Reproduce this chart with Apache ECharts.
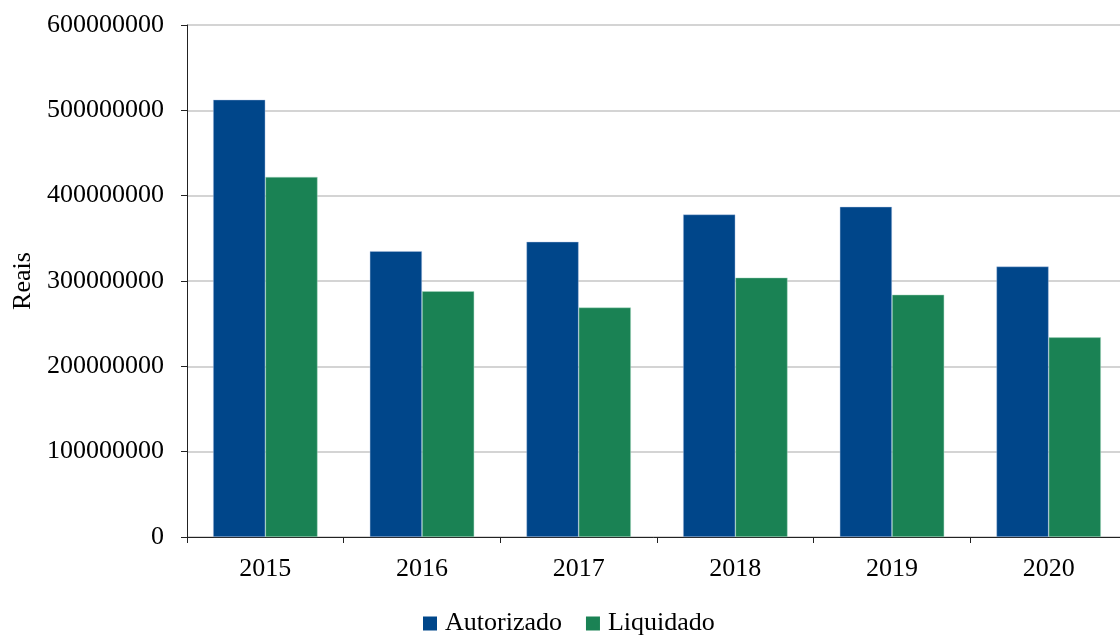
<!DOCTYPE html>
<html>
<head>
<meta charset="utf-8">
<style>
  html, body { margin: 0; padding: 0; background: #ffffff; }
  #chart { width: 1120px; height: 636px; }
</style>
<script src="https://cdn.jsdelivr.net/npm/echarts@6/dist/echarts.min.js"></script>
</head>
<body>
<div id="chart"></div>
<script>
// Annual budget: authorized vs. settled amounts (in reais)
const years = ['2015', '2016', '2017', '2018', '2019', '2020'];
const autorizado = [512500000, 335000000, 346000000, 378000000, 387000000, 317000000];
const liquidado  = [422000000, 288000000, 269000000, 304000000, 284000000, 234000000];
const yTicks = { min: 0, max: 600000000, interval: 100000000 };

const FONT = '"Liberation Serif", "Times New Roman", serif';

const chart = echarts.init(document.getElementById('chart'), null, { renderer: 'canvas' });
chart.setOption({
  animation: false,
  backgroundColor: '#ffffff',
  textStyle: { fontFamily: FONT, color: '#000000' },
  grid: {
    left: 187, top: 25, width: 940, height: 512,
    containLabel: false,
    outerBoundsMode: 'none'
  },
  legend: {
    left: 423,
    top: 609,
    padding: 0,
    itemWidth: 14,
    itemHeight: 14,
    itemGap: 24,
    icon: 'rect',
    itemStyle: { borderWidth: 0 },
    textStyle: { fontFamily: FONT, fontSize: 26, lineHeight: 26, color: '#000000', padding: [3, 0, 0, 3] },
    data: ['Autorizado', 'Liquidado']
  },
  xAxis: {
    type: 'category',
    data: years,
    axisLine: { lineStyle: { color: '#222222', width: 1 } },
    axisTick: { show: true, length: 6, alignWithLabel: false, lineStyle: { color: '#222222' } },
    axisLabel: { fontFamily: FONT, fontSize: 26, color: '#000000', margin: 19 }
  },
  yAxis: {
    type: 'value',
    min: yTicks.min,
    max: yTicks.max,
    interval: yTicks.interval,
    name: 'Reais',
    nameLocation: 'middle',
    nameGap: 151,
    nameRotate: 90,
    nameTextStyle: { fontFamily: FONT, fontSize: 26, color: '#000000' },
    axisLine: { show: true, lineStyle: { color: '#222222', width: 1 } },
    axisTick: { show: true, length: 6, lineStyle: { color: '#222222' } },
    axisLabel: {
      fontFamily: FONT, fontSize: 26, color: '#000000', margin: 23,
      formatter: (v) => String(v)
    },
    splitLine: { show: true, lineStyle: { color: '#d4d4d4', width: 2 } }
  },
  series: [
    {
      name: 'Autorizado',
      type: 'bar',
      data: autorizado,
      barGap: '0%',
      barCategoryGap: '33.3%',
      itemStyle: { color: '#00468a', borderColor: 'rgba(180,200,230,0.7)', borderWidth: 0.6 }
    },
    {
      name: 'Liquidado',
      type: 'bar',
      data: liquidado,
      barGap: '0%',
      barCategoryGap: '33.3%',
      itemStyle: { color: '#1a8254', borderColor: 'rgba(170,220,195,0.8)', borderWidth: 0.6 }
    }
  ]
});
</script>
</body>
</html>
